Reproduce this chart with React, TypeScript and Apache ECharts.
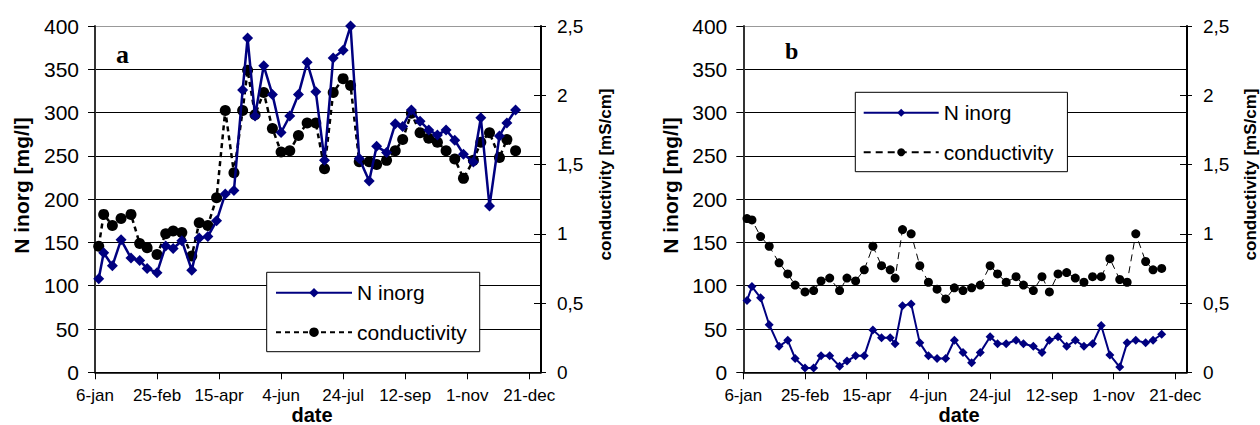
import React, { useEffect, useRef } from 'react';
import * as echarts from 'echarts';

// Sampling dates, in days after 6 January (the x-axis origin)
const sampleDays = [3, 7, 14, 21, 29, 36, 42, 50, 57, 63, 70, 78, 84, 91, 98, 105, 112, 119, 123, 129, 136, 143, 150, 157, 164, 171, 178, 185, 192, 200, 206, 213, 221, 227, 235, 242, 248, 255, 262, 269, 276, 283, 290, 297, 305, 311, 318, 326, 332, 339];

// Panel a
const nInorgA = [108, 138, 123, 153, 132, 129, 120, 115, 146, 143, 152, 118, 155, 157, 175, 206, 210, 326, 386, 296, 354, 321, 277, 296, 321, 358, 324, 245, 363, 372, 400, 247, 221, 261, 254, 287, 284, 303, 290, 280, 274, 280, 268, 252, 243, 294, 192, 273, 288, 303];
const condA = [0.91, 1.14, 1.06, 1.11, 1.14, 0.93, 0.9, 0.85, 1.0, 1.02, 1.01, 0.84, 1.08, 1.06, 1.26, 1.89, 1.44, 1.89, 2.18, 1.86, 2.02, 1.76, 1.59, 1.6, 1.71, 1.8, 1.8, 1.47, 2.02, 2.12, 2.07, 1.52, 1.52, 1.5, 1.53, 1.6, 1.68, 1.87, 1.73, 1.69, 1.66, 1.6, 1.54, 1.4, 1.53, 1.66, 1.73, 1.55, 1.68, 1.6];

// Panel b
const nInorgB = [83, 99, 86, 55, 30, 37, 16, 5, 5, 19, 19, 7, 13, 19, 19, 49, 40, 40, 33, 77, 79, 34, 19, 16, 16, 37, 23, 11, 23, 41, 33, 33, 37, 33, 30, 23, 37, 41, 30, 37, 30, 33, 54, 20, 6, 34, 37, 34, 37, 44];
const condB = [1.11, 1.1, 0.98, 0.91, 0.79, 0.71, 0.63, 0.58, 0.59, 0.66, 0.68, 0.59, 0.68, 0.66, 0.74, 0.91, 0.77, 0.74, 0.68, 1.03, 1.0, 0.77, 0.65, 0.6, 0.53, 0.61, 0.59, 0.61, 0.63, 0.77, 0.71, 0.65, 0.69, 0.63, 0.59, 0.69, 0.58, 0.71, 0.72, 0.68, 0.65, 0.69, 0.69, 0.82, 0.67, 0.65, 1.0, 0.8, 0.74, 0.75];

// Tick labels
const dateTickLabels = ['6-jan', '25-feb', '15-apr', '4-jun', '24-jul', '12-sep', '1-nov', '21-dec'];
const nTickLabels = ['0', '50', '100', '150', '200', '250', '300', '350', '400'];
const condTickLabels = ['0', '0,5', '1', '1,5', '2', '2,5'];

const N_COLOR = '#000080';
const FONT = '"Liberation Sans", Arial, sans-serif';

function xAxisFor(gi: number) {
  return {
    type: 'value',
    gridIndex: gi,
    min: 0,
    max: 359.5,
    interval: 50,
    axisLine: { show: true, onZero: false, lineStyle: { color: '#000', width: 1.5 } },
    axisTick: { show: true, length: 7, lineStyle: { color: '#000', width: 1 } },
    axisLabel: {
      margin: 15,
      fontSize: 17,
      color: '#000',
      fontFamily: FONT,
      showMaxLabel: false,
      formatter: (v: number) => {
        const i = Math.round(v / 50);
        return Math.abs(v - i * 50) < 1e-6 && i < dateTickLabels.length ? dateTickLabels[i] : '';
      },
    },
    splitLine: { show: false },
  };
}

function leftAxisFor(gi: number) {
  return {
    type: 'value',
    gridIndex: gi,
    position: 'left',
    min: 0,
    max: 400,
    interval: 50,
    axisLine: { show: true, lineStyle: { color: '#333', width: 2 } },
    axisTick: { show: true, length: 7, lineStyle: { color: '#000', width: 1 } },
    axisLabel: {
      margin: 16,
      fontSize: 21,
      color: '#000',
      fontFamily: FONT,
      formatter: (v: number) => nTickLabels[Math.round(v / 50)] ?? '',
    },
    splitLine: {
      show: true,
      lineStyle: { color: ['#000', '#000', '#000', '#000', '#000', '#000', '#000', '#000', '#999'], width: 1 },
    },
  };
}

function rightAxisFor(gi: number) {
  return {
    type: 'value',
    gridIndex: gi,
    position: 'right',
    min: 0,
    max: 2.5,
    interval: 0.5,
    axisLine: { show: true, lineStyle: { color: '#000', width: 2 } },
    axisTick: { show: true, length: 5, lineStyle: { color: '#000', width: 1 } },
    axisLabel: {
      margin: 16,
      fontSize: 19,
      color: '#000',
      fontFamily: FONT,
      formatter: (v: number) => condTickLabels[Math.round(v / 0.5)] ?? '',
    },
    splitLine: { show: false },
  };
}

function innerTickAxisFor(gi: number) {
  return {
    type: 'value',
    gridIndex: gi,
    position: 'right',
    min: 0,
    max: 2.5,
    interval: 0.5,
    axisLine: { show: false },
    axisTick: { show: true, inside: true, length: 7, lineStyle: { color: '#000', width: 1 } },
    axisLabel: { show: false },
    splitLine: { show: false },
  };
}

function pairs(ys: number[]) {
  return sampleDays.map((d, i) => [d, ys[i]]);
}

function buildOption() {
  const legendText = { fontSize: 21, fontFamily: FONT, color: '#000', lineHeight: 20 };
  return {
    animation: false,
    backgroundColor: '#fff',
    grid: [
      { left: 95, top: 26, width: 446, height: 346.3 },
      { left: 743.3, top: 26, width: 443.7, height: 346.3 },
    ],
    xAxis: [xAxisFor(0), xAxisFor(1)],
    yAxis: [leftAxisFor(0), rightAxisFor(0), leftAxisFor(1), rightAxisFor(1), innerTickAxisFor(0), innerTickAxisFor(1)],
    legend: [
      {
        data: ['N inorg', 'conductivity'],
        orient: 'vertical',
        left: 266.7,
        top: 272.3,
        padding: [10, 13, 9, 8.3],
        itemWidth: 76,
        itemHeight: 12,
        itemGap: 18.4,
        backgroundColor: '#fff',
        borderColor: '#000',
        borderWidth: 1,
        borderRadius: 0,
        selectedMode: false,
        textStyle: legendText,
        formatter: (n: string) => n.trim(),
      },
      {
        data: ['N inorg ', 'conductivity '],
        orient: 'vertical',
        left: 855.3,
        top: 92.3,
        padding: [10, 14, 9, 7.4],
        itemWidth: 75,
        itemHeight: 10,
        itemGap: 18.4,
        backgroundColor: '#fff',
        borderColor: '#000',
        borderWidth: 1,
        borderRadius: 0,
        selectedMode: false,
        textStyle: legendText,
        formatter: (n: string) => n.trim(),
      },
    ],
    series: [
      {
        name: 'conductivity',
        type: 'line',
        xAxisIndex: 0,
        yAxisIndex: 1,
        data: pairs(condA),
        symbol: 'circle',
        symbolSize: 11,
        clip: false,
        z: 2,
        lineStyle: { color: '#000', width: 2.5, type: [5, 4] },
        itemStyle: { color: '#000' },
      },
      {
        name: 'N inorg',
        type: 'line',
        xAxisIndex: 0,
        yAxisIndex: 0,
        data: pairs(nInorgA),
        symbol: 'diamond',
        symbolSize: 11,
        clip: false,
        z: 3,
        lineStyle: { color: N_COLOR, width: 2.5 },
        itemStyle: { color: N_COLOR },
      },
      {
        name: 'conductivity ',
        type: 'line',
        xAxisIndex: 1,
        yAxisIndex: 3,
        data: pairs(condB),
        symbol: 'circle',
        symbolSize: 9,
        clip: false,
        z: 2,
        lineStyle: { color: '#000', width: 1, type: [7, 5] },
        itemStyle: { color: '#000' },
      },
      {
        name: 'N inorg ',
        type: 'line',
        xAxisIndex: 1,
        yAxisIndex: 2,
        data: pairs(nInorgB),
        symbol: 'diamond',
        symbolSize: 9,
        clip: false,
        z: 3,
        lineStyle: { color: N_COLOR, width: 2 },
        itemStyle: { color: N_COLOR },
      },
    ],
    graphic: [
      { type: 'text', x: 116, y: 54, style: { text: 'a', font: 'bold 26px "Liberation Serif", serif', fill: '#000', align: 'left', verticalAlign: 'middle' } },
      { type: 'text', x: 785, y: 51, style: { text: 'b', font: 'bold 24px "Liberation Serif", serif', fill: '#000', align: 'left', verticalAlign: 'middle' } },
      { type: 'text', x: 21.7, y: 185.5, rotation: Math.PI / 2, style: { text: 'N inorg [mg/l]', font: 'bold 21px "Liberation Sans", Arial, sans-serif', fill: '#000', align: 'center', verticalAlign: 'middle' } },
      { type: 'text', x: 670, y: 185.5, rotation: Math.PI / 2, style: { text: 'N inorg [mg/l]', font: 'bold 21px "Liberation Sans", Arial, sans-serif', fill: '#000', align: 'center', verticalAlign: 'middle' } },
      { type: 'text', x: 605.3, y: 174.5, rotation: Math.PI / 2, style: { text: 'conductivity [mS/cm]', font: 'bold 17px "Liberation Sans", Arial, sans-serif', fill: '#000', align: 'center', verticalAlign: 'middle' } },
      { type: 'text', x: 1250.5, y: 174.5, rotation: Math.PI / 2, style: { text: 'conductivity [mS/cm]', font: 'bold 17px "Liberation Sans", Arial, sans-serif', fill: '#000', align: 'center', verticalAlign: 'middle' } },
      { type: 'text', x: 312, y: 414.5, style: { text: 'date', font: 'bold 20px "Liberation Sans", Arial, sans-serif', fill: '#000', align: 'center', verticalAlign: 'middle' } },
      { type: 'text', x: 959, y: 414.5, style: { text: 'date', font: 'bold 20px "Liberation Sans", Arial, sans-serif', fill: '#000', align: 'center', verticalAlign: 'middle' } },
    ],
  };
}

export default function App() {
  const ref = useRef<HTMLDivElement>(null);
  useEffect(() => {
    if (!ref.current) return;
    const chart = echarts.init(ref.current, undefined, { renderer: 'svg' });
    chart.setOption(buildOption() as any);
    return () => {
      chart.dispose();
    };
  }, []);
  return (
    <div
      ref={ref}
      style={{ position: 'fixed', left: 0, top: 0, width: 1260, height: 425, background: '#fff' }}
    />
  );
}
